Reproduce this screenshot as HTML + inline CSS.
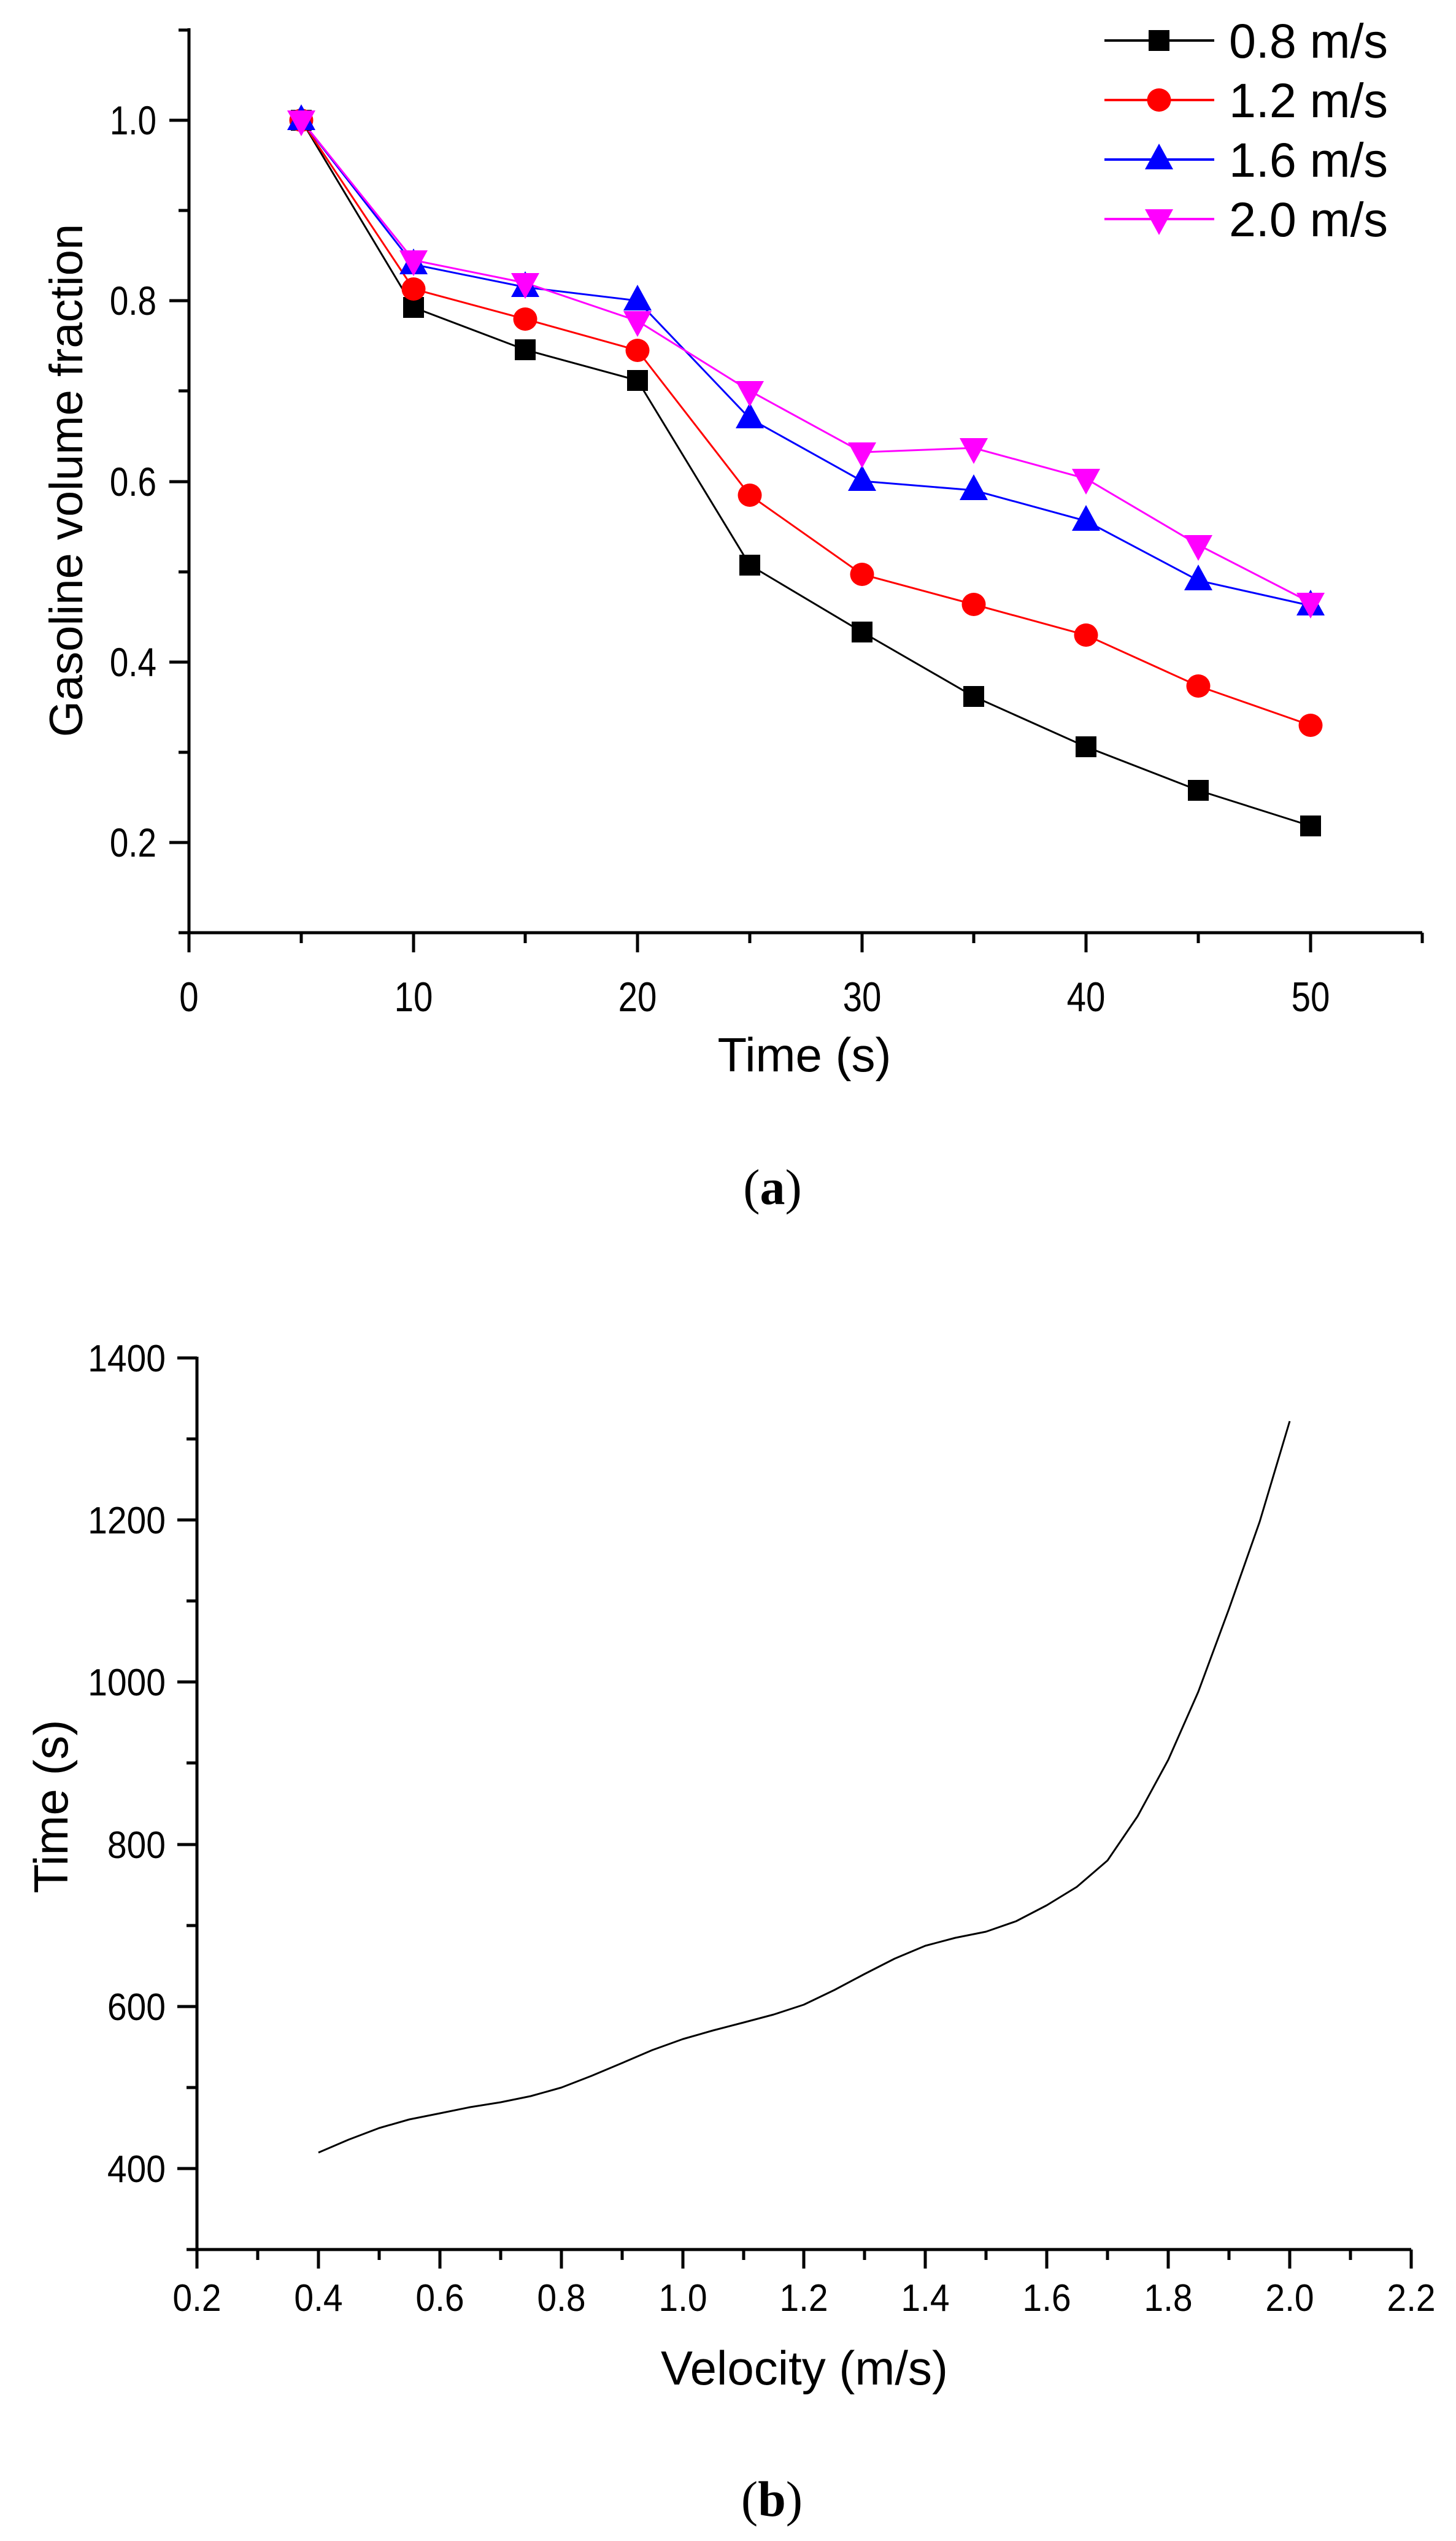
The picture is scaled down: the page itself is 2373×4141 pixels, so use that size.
<!DOCTYPE html>
<html><head><meta charset="utf-8"><style>
html,body{margin:0;padding:0;background:#fff}
svg{display:block}
text{font-family:"Liberation Sans",Arial,sans-serif;fill:#000}
.cap{font-family:"Liberation Serif","Times New Roman",serif}
</style></head><body>
<svg width="2373" height="4141" viewBox="0 0 2373 4141" xmlns="http://www.w3.org/2000/svg">
<rect width="2373" height="4141" fill="#fff"/>

<!-- ===== Plot (a) ===== -->
<g stroke="#000" stroke-width="5" fill="none">
  <line x1="308" y1="46" x2="308" y2="1522"/>
  <line x1="306" y1="1520" x2="2318" y2="1520"/>
  <line x1="276" y1="196" x2="308" y2="196"/>
  <line x1="276" y1="490" x2="308" y2="490"/>
  <line x1="276" y1="785" x2="308" y2="785"/>
  <line x1="276" y1="1079" x2="308" y2="1079"/>
  <line x1="276" y1="1373" x2="308" y2="1373"/>
  <line x1="291" y1="49" x2="308" y2="49"/>
  <line x1="291" y1="343" x2="308" y2="343"/>
  <line x1="291" y1="637" x2="308" y2="637"/>
  <line x1="291" y1="932" x2="308" y2="932"/>
  <line x1="291" y1="1226" x2="308" y2="1226"/>
  <line x1="291" y1="1520" x2="308" y2="1520"/>
  <line x1="308" y1="1520" x2="308" y2="1552"/>
  <line x1="674" y1="1520" x2="674" y2="1552"/>
  <line x1="1039" y1="1520" x2="1039" y2="1552"/>
  <line x1="1405" y1="1520" x2="1405" y2="1552"/>
  <line x1="1770" y1="1520" x2="1770" y2="1552"/>
  <line x1="2136" y1="1520" x2="2136" y2="1552"/>
  <line x1="491" y1="1520" x2="491" y2="1537"/>
  <line x1="856" y1="1520" x2="856" y2="1537"/>
  <line x1="1222" y1="1520" x2="1222" y2="1537"/>
  <line x1="1587" y1="1520" x2="1587" y2="1537"/>
  <line x1="1953" y1="1520" x2="1953" y2="1537"/>
  <line x1="2318" y1="1520" x2="2318" y2="1537"/>
</g>
<g font-size="66" text-anchor="end">
  <text transform="translate(255,219) scale(0.83,1)">1.0</text>
  <text transform="translate(255,513) scale(0.83,1)">0.8</text>
  <text transform="translate(255,808) scale(0.83,1)">0.6</text>
  <text transform="translate(255,1102) scale(0.83,1)">0.4</text>
  <text transform="translate(255,1396) scale(0.83,1)">0.2</text>
</g>
<g font-size="68" text-anchor="middle">
  <text transform="translate(308,1648) scale(0.83,1)">0</text>
  <text transform="translate(674,1648) scale(0.83,1)">10</text>
  <text transform="translate(1039,1648) scale(0.83,1)">20</text>
  <text transform="translate(1405,1648) scale(0.83,1)">30</text>
  <text transform="translate(1770,1648) scale(0.83,1)">40</text>
  <text transform="translate(2136,1648) scale(0.83,1)">50</text>
</g>
<text x="1311" y="1746" font-size="78" text-anchor="middle">Time (s)</text>
<text transform="translate(134,783) rotate(-90)" font-size="76" text-anchor="middle">Gasoline volume fraction</text>

<polyline fill="none" stroke="#000" stroke-width="3" points="491,196 674,501 856,570 1039,620 1222,921 1405,1030 1587,1135 1770,1217 1953,1288 2136,1346"/>
<polyline fill="none" stroke="#f00" stroke-width="3" points="491,196 674,471 856,520 1039,571 1222,807 1405,936 1587,985 1770,1035 1953,1118 2136,1182"/>
<polyline fill="none" stroke="#00f" stroke-width="3" points="491,196 674,431 856,468 1039,490 1222,682 1405,784 1587,799 1770,849 1953,946 2136,987"/>
<polyline fill="none" stroke="#f0f" stroke-width="3" points="491,196 674,424 856,461 1039,523 1222,637 1405,737 1587,730 1770,780 1953,888 2136,982"/>

<defs>
  <rect id="sq" x="-17" y="-17" width="34" height="34" fill="#000"/>
  <ellipse id="ci" cx="0" cy="0" rx="19.5" ry="19" fill="#f00"/>
  <polygon id="tu" points="0,-26 23,16 -23,16" fill="#00f"/>
  <polygon id="td" points="-23,-16 23,-16 0,26" fill="#f0f"/>
</defs>
<g>
  <use href="#sq" x="491" y="196"/><use href="#sq" x="674" y="501"/><use href="#sq" x="856" y="570"/><use href="#sq" x="1039" y="620"/><use href="#sq" x="1222" y="921"/><use href="#sq" x="1405" y="1030"/><use href="#sq" x="1587" y="1135"/><use href="#sq" x="1770" y="1217"/><use href="#sq" x="1953" y="1288"/><use href="#sq" x="2136" y="1346"/>
  <use href="#ci" x="491" y="196"/><use href="#ci" x="674" y="471"/><use href="#ci" x="856" y="520"/><use href="#ci" x="1039" y="571"/><use href="#ci" x="1222" y="807"/><use href="#ci" x="1405" y="936"/><use href="#ci" x="1587" y="985"/><use href="#ci" x="1770" y="1035"/><use href="#ci" x="1953" y="1118"/><use href="#ci" x="2136" y="1182"/>
  <use href="#tu" x="491" y="196"/><use href="#tu" x="674" y="431"/><use href="#tu" x="856" y="468"/><use href="#tu" x="1039" y="490"/><use href="#tu" x="1222" y="682"/><use href="#tu" x="1405" y="784"/><use href="#tu" x="1587" y="799"/><use href="#tu" x="1770" y="849"/><use href="#tu" x="1953" y="946"/><use href="#tu" x="2136" y="987"/>
  <use href="#td" x="491" y="196"/><use href="#td" x="674" y="424"/><use href="#td" x="856" y="461"/><use href="#td" x="1039" y="523"/><use href="#td" x="1222" y="637"/><use href="#td" x="1405" y="737"/><use href="#td" x="1587" y="730"/><use href="#td" x="1770" y="780"/><use href="#td" x="1953" y="888"/><use href="#td" x="2136" y="982"/>
</g>

<line x1="1800" y1="66" x2="1979" y2="66" stroke="#000" stroke-width="4"/>
<use href="#sq" x="1889" y="66"/>
<line x1="1800" y1="163" x2="1979" y2="163" stroke="#f00" stroke-width="4"/>
<use href="#ci" x="1889" y="163"/>
<line x1="1800" y1="260" x2="1979" y2="260" stroke="#00f" stroke-width="4"/>
<use href="#tu" x="1889" y="260"/>
<line x1="1800" y1="357" x2="1979" y2="357" stroke="#f0f" stroke-width="4"/>
<use href="#td" x="1889" y="357"/>
<g font-size="79">
  <text x="2003" y="94">0.8 m/s</text>
  <text x="2003" y="191">1.2 m/s</text>
  <text x="2003" y="288">1.6 m/s</text>
  <text x="2003" y="385">2.0 m/s</text>
</g>

<text class="cap" x="1259" y="1962" font-size="82" text-anchor="middle">(<tspan font-weight="bold">a</tspan>)</text>

<!-- ===== Plot (b) ===== -->
<g stroke="#000" stroke-width="5" fill="none">
  <line x1="321" y1="2211" x2="321" y2="3668"/>
  <line x1="319" y1="3666" x2="2300" y2="3666"/>
  <line x1="289" y1="2213" x2="321" y2="2213"/>
  <line x1="289" y1="2477" x2="321" y2="2477"/>
  <line x1="289" y1="2741" x2="321" y2="2741"/>
  <line x1="289" y1="3006" x2="321" y2="3006"/>
  <line x1="289" y1="3270" x2="321" y2="3270"/>
  <line x1="289" y1="3534" x2="321" y2="3534"/>
  <line x1="304" y1="2345" x2="321" y2="2345"/>
  <line x1="304" y1="2609" x2="321" y2="2609"/>
  <line x1="304" y1="2873" x2="321" y2="2873"/>
  <line x1="304" y1="3138" x2="321" y2="3138"/>
  <line x1="304" y1="3402" x2="321" y2="3402"/>
  <line x1="304" y1="3666" x2="321" y2="3666"/>
  <line x1="321" y1="3666" x2="321" y2="3697"/>
  <line x1="519" y1="3666" x2="519" y2="3697"/>
  <line x1="717" y1="3666" x2="717" y2="3697"/>
  <line x1="915" y1="3666" x2="915" y2="3697"/>
  <line x1="1113" y1="3666" x2="1113" y2="3697"/>
  <line x1="1310" y1="3666" x2="1310" y2="3697"/>
  <line x1="1508" y1="3666" x2="1508" y2="3697"/>
  <line x1="1706" y1="3666" x2="1706" y2="3697"/>
  <line x1="1904" y1="3666" x2="1904" y2="3697"/>
  <line x1="2102" y1="3666" x2="2102" y2="3697"/>
  <line x1="2300" y1="3666" x2="2300" y2="3697"/>
  <line x1="420" y1="3666" x2="420" y2="3683"/>
  <line x1="618" y1="3666" x2="618" y2="3683"/>
  <line x1="816" y1="3666" x2="816" y2="3683"/>
  <line x1="1014" y1="3666" x2="1014" y2="3683"/>
  <line x1="1212" y1="3666" x2="1212" y2="3683"/>
  <line x1="1409" y1="3666" x2="1409" y2="3683"/>
  <line x1="1607" y1="3666" x2="1607" y2="3683"/>
  <line x1="1805" y1="3666" x2="1805" y2="3683"/>
  <line x1="2003" y1="3666" x2="2003" y2="3683"/>
  <line x1="2201" y1="3666" x2="2201" y2="3683"/>
</g>
<g font-size="62" text-anchor="end">
  <text transform="translate(270,2235) scale(0.92,1)">1400</text>
  <text transform="translate(270,2499) scale(0.92,1)">1200</text>
  <text transform="translate(270,2763) scale(0.92,1)">1000</text>
  <text transform="translate(270,3028) scale(0.92,1)">800</text>
  <text transform="translate(270,3292) scale(0.92,1)">600</text>
  <text transform="translate(270,3556) scale(0.92,1)">400</text>
</g>
<g font-size="62" text-anchor="middle">
  <text transform="translate(321,3766) scale(0.92,1)">0.2</text>
  <text transform="translate(519,3766) scale(0.92,1)">0.4</text>
  <text transform="translate(717,3766) scale(0.92,1)">0.6</text>
  <text transform="translate(915,3766) scale(0.92,1)">0.8</text>
  <text transform="translate(1113,3766) scale(0.92,1)">1.0</text>
  <text transform="translate(1310,3766) scale(0.92,1)">1.2</text>
  <text transform="translate(1508,3766) scale(0.92,1)">1.4</text>
  <text transform="translate(1706,3766) scale(0.92,1)">1.6</text>
  <text transform="translate(1904,3766) scale(0.92,1)">1.8</text>
  <text transform="translate(2102,3766) scale(0.92,1)">2.0</text>
  <text transform="translate(2300,3766) scale(0.92,1)">2.2</text>
</g>
<text x="1311" y="3886" font-size="78" text-anchor="middle">Velocity (m/s)</text>
<text transform="translate(110,2944) rotate(-90)" font-size="78" text-anchor="middle">Time (s)</text>

<polyline fill="none" stroke="#000" stroke-width="3" stroke-linejoin="round" points="519,3508 568,3487 618,3468 667,3454 717,3444 766,3434 816,3426 865,3416 915,3402 964,3383 1014,3362 1063,3341 1113,3323 1162,3309 1212,3296 1261,3283 1310,3267 1360,3243 1409,3217 1458,3192 1508,3171 1557,3158 1607,3148 1656,3131 1706,3105 1755,3075 1805,3032 1854,2960 1904,2868 1953,2757 2003,2622 2053,2480 2102,2316"/>

<text class="cap" x="1258" y="4100" font-size="82" text-anchor="middle">(<tspan font-weight="bold">b</tspan>)</text>
</svg>
</body></html>
